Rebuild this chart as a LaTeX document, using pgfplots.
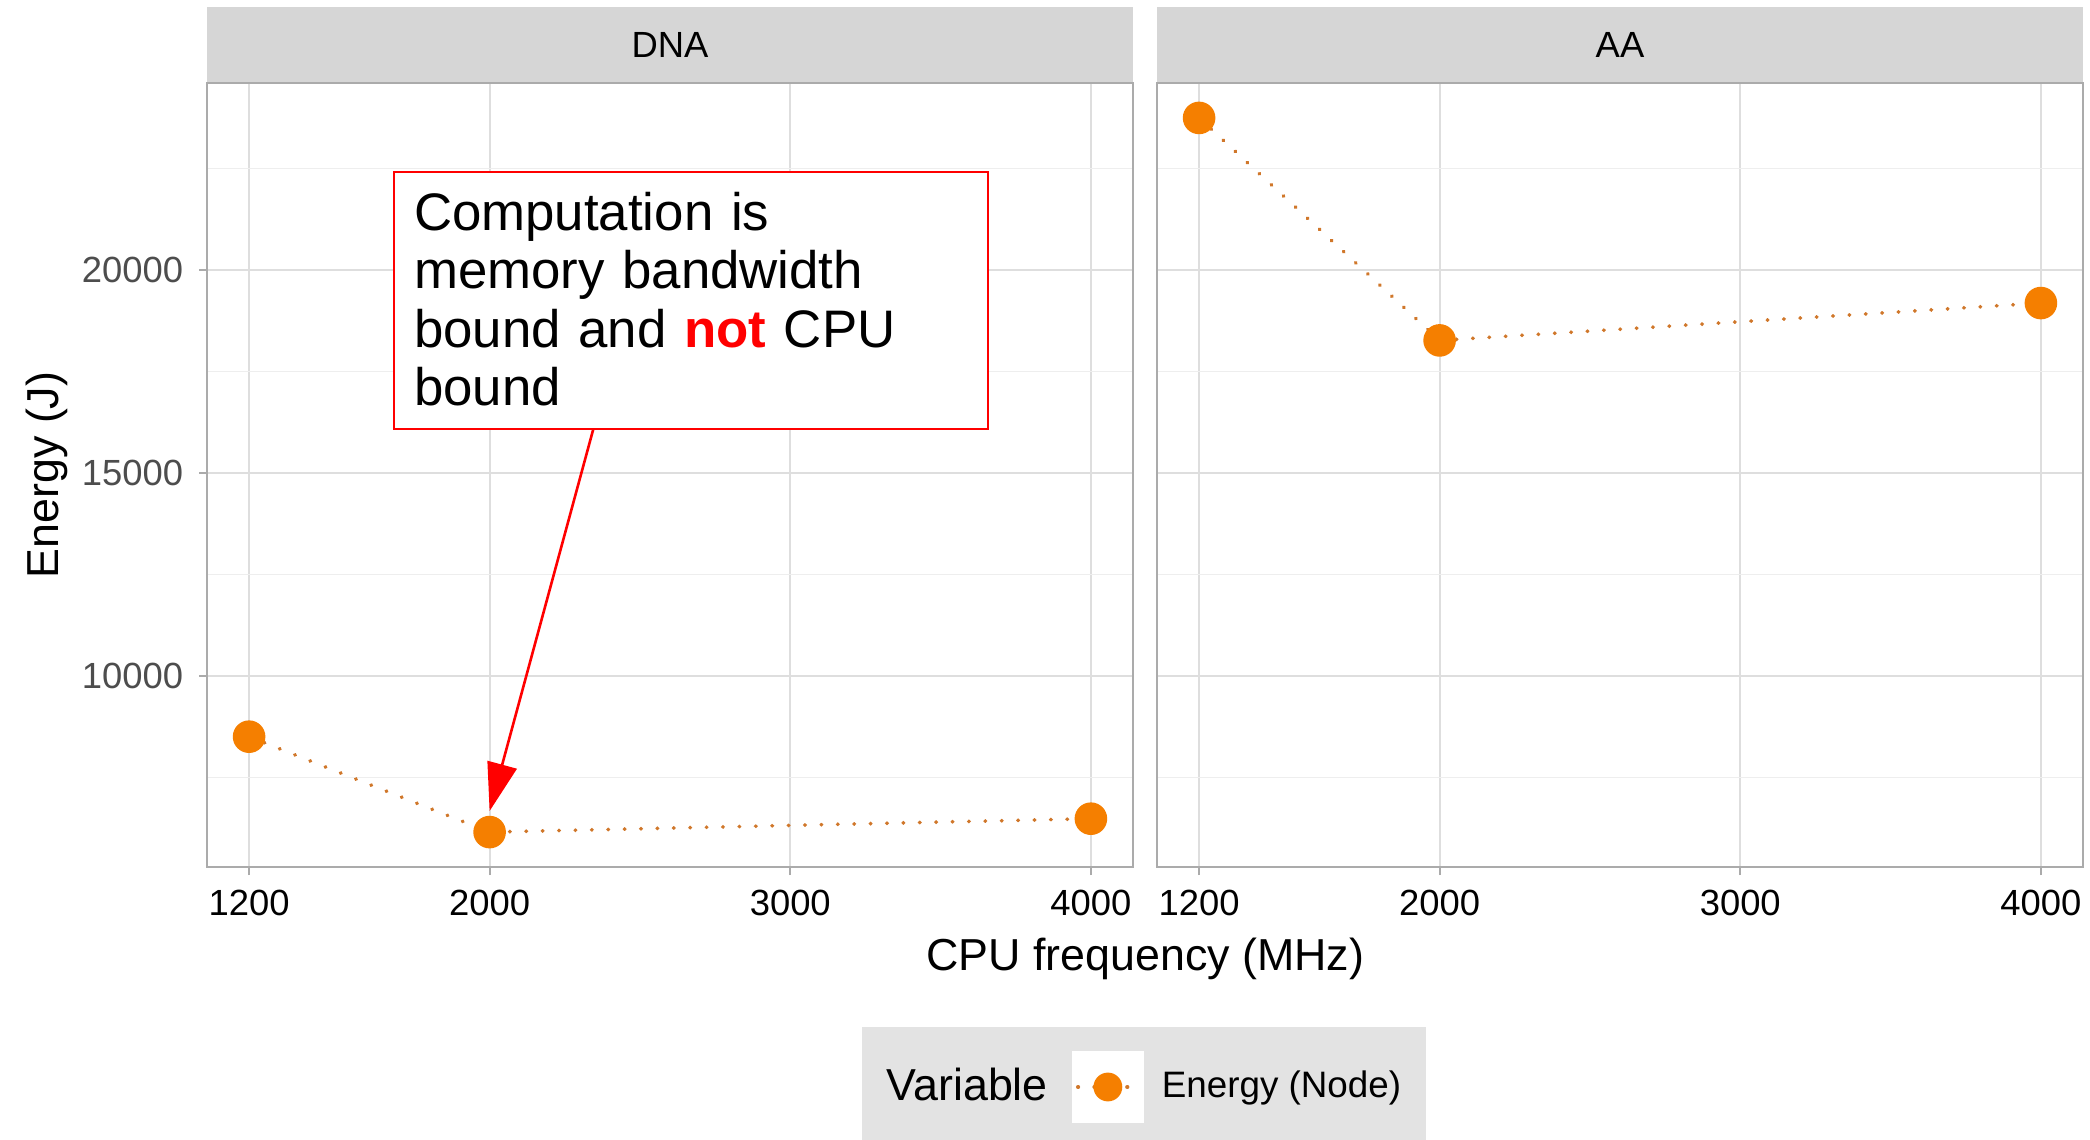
\documentclass[border=0pt]{standalone}
\usepackage{pgfplots}
\pgfplotsset{compat=1.18}
\usepackage{fontspec}
\setmainfont{Liberation Sans}
\usetikzlibrary{arrows.meta}
\definecolor{ptorange}{HTML}{F57F00}
\definecolor{dotorange}{HTML}{D0772A}
\definecolor{stripgray}{HTML}{D6D6D6}
\definecolor{legendgray}{HTML}{E3E3E3}
\definecolor{gridmaj}{HTML}{DEDEDE}
\definecolor{gridmin}{HTML}{EEEEEE}
\definecolor{bordergray}{HTML}{ABABAB}
\definecolor{ticktext}{HTML}{4D4D4D}

\pgfplotsset{
  panel/.style={
    scale only axis, width=231.5pt, height=196pt,
    anchor=south west,
    xmin=1060, xmax=4140, ymin=5290, ymax=24600,
    xtick={1200,2000,3000,4000},
    xticklabels={1200,2000,3000,4000},
    ytick={10000,15000,20000},
    minor ytick={7500,12500,17500,22500},
    scaled ticks=false,
    xtick pos=bottom, ytick pos=left,
    grid=both,
    major grid style={color=gridmaj, line width=0.45pt},
    minor grid style={color=gridmin, line width=0.3pt},
    axis line style={color=bordergray, line width=0.5pt},
    tick style={color=bordergray, line width=0.5pt},
    tick align=outside, major tick length=2pt, minor tick length=0pt,
    x tick label style={font=\fontsize{9.1}{10}\selectfont, text=black, anchor=north, inner sep=0pt, yshift=-3.5pt},
    y tick label style={font=\fontsize{9.1}{10}\selectfont, text=ticktext, anchor=east, inner sep=0pt, xshift=-3.75pt},
    clip=false,
    axis background/.style={fill=white},
  },
  series/.style={
    color=dotorange, line width=0.95pt, line cap=round,
    dash pattern=on 0.1pt off 4pt,
    mark=*, mark size=3.6pt,
    mark options={solid, draw=ptorange, fill=ptorange},
  },
}

\begin{document}
\begin{tikzpicture}
\path[use as bounding box, fill=white] (0pt,0pt) rectangle (522.5pt,284.75pt);

% legend background
\fill[legendgray] (215.5pt,-5pt) rectangle (356.5pt,28pt);

% strips
\fill[stripgray] (51.75pt,264pt) rectangle (283.25pt,283.1pt);
\fill[stripgray] (289.25pt,264pt) rectangle (520.75pt,283.1pt);
\node[font=\fontsize{9.1}{10}\selectfont] at (167.5pt,273.5pt) {DNA};
\node[font=\fontsize{9.1}{10}\selectfont] at (405pt,273.5pt) {AA};

\begin{axis}[panel, at={(51.75pt,68pt)},
  yticklabels={10000,15000,20000},
  legend columns=2,
  legend style={at={(1.0119,-0.2806)}, anchor=center, draw=none, fill=none,
    inner sep=0pt, column sep=0pt,
    nodes={inner xsep=3pt, inner ysep=0pt},
    font=\fontsize{9.2}{10}\selectfont},
]
\addlegendimage{empty legend}
\addlegendentry[font=\fontsize{11.2}{12}\selectfont]{Variable}
\addplot[series,
  legend image code/.code={
    \path[draw=none] (0pt,0pt) -- (22.5pt,0pt);
    \path[fill=white, draw=none, solid] (3pt,-9pt) rectangle (21pt,9pt);
    \draw[dotorange, line width=0.95pt, line cap=round, dash pattern=on 0.1pt off 4pt] (4.5pt,0pt) -- (20pt,0pt);
    \path[fill=ptorange, draw=none, solid] (12pt,0pt) circle (3.6pt);
  }] coordinates {
  (1200,8500) (2000,6150) (4000,6480)
};
\addlegendentry{Energy (Node)}
\node[draw=red, fill=white, line width=0.5pt, anchor=north west,
  minimum width=148.5pt, text width=138.5pt,
  inner xsep=5pt, inner ysep=5pt, align=left, font=\fontsize{13.2}{14.6}\selectfont]
  at (axis cs:1679,22433)
  {Computation is\\memory bandwidth\\bound and \textcolor{red}{\textbf{not}} CPU\\bound\rule[-1pt]{0pt}{1pt}};
\draw[red, line width=0.65pt, -{Triangle[length=12pt,width=7.5pt]}]
  (axis cs:2345,16078) -- (axis cs:2000,6669);
\end{axis}

\begin{axis}[panel, at={(289.25pt,68pt)},
  yticklabels={}, ytick style={draw=none},
]
\addplot[series] coordinates {
  (1200,23740) (2000,18260) (4000,19180)
};
\end{axis}

% axis titles
\node[font=\fontsize{11.2}{12}\selectfont] at (286.3pt,45pt) {CPU frequency (MHz)};
\node[font=\fontsize{11.2}{12}\selectfont, rotate=90] at (11.7pt,166pt) {Energy (J)};
\end{tikzpicture}
\end{document}
